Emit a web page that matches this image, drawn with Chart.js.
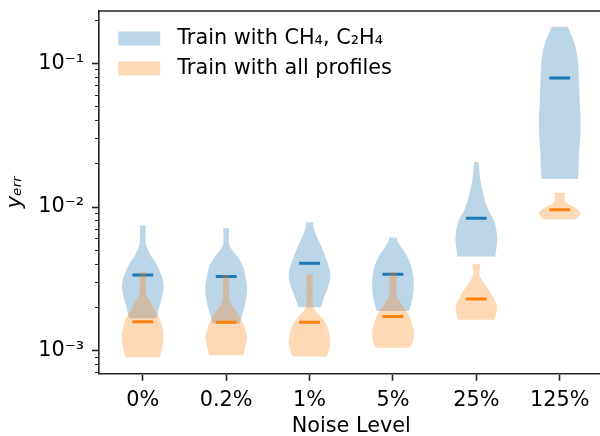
<!DOCTYPE html>
<html lang="en">
<head>
<meta charset="UTF-8">
<title>Prediction error vs noise level</title>
<script src="https://cdn.jsdelivr.net/npm/chart.js"></script>
<style>
  body { margin: 0; overflow: hidden; background: #fff; }
</style>
</head>
<body>
<canvas id="violinChart" width="610" height="436"></canvas>
<script>
const noiseLevels = ['0%', '0.2%', '1%', '5%', '25%', '125%'];
const seriesNames = ['Train with CH₄, C₂H₄', 'Train with all profiles'];

// median y_err per noise level
const ch4Medians = [0.00337, 0.00328, 0.00407, 0.00341, 0.00837, 0.0791];
const allMedians = [0.00159, 0.00158, 0.00158, 0.00173, 0.00229, 0.00956];

// violin outlines, top to bottom: [y_err, relative density]
const ch4Profiles = [
  [[0.00743, 0.14], [0.00560, 0.14], [0.00517, 0.22], [0.00464, 0.37], [0.00430, 0.52], [0.00396, 0.67],
   [0.00355, 0.82], [0.00321, 0.94], [0.00278, 1.0], [0.00233, 0.91], [0.00199, 0.78], [0.00168, 0.66]],
  [[0.00713, 0.14], [0.00560, 0.14], [0.00510, 0.25], [0.00464, 0.48], [0.00420, 0.68], [0.00375, 0.84],
   [0.00272, 1.0], [0.00208, 0.90], [0.00177, 0.76], [0.00155, 0.66]],
  [[0.00785, 0.18], [0.00720, 0.19], [0.00675, 0.25], [0.00591, 0.42], [0.00517, 0.60], [0.00417, 0.84],
   [0.00346, 1.0], [0.00287, 0.92], [0.00232, 0.68], [0.00201, 0.54]],
  [[0.00613, 0.18], [0.00575, 0.22], [0.00530, 0.38], [0.00440, 0.73], [0.00355, 0.94], [0.00287, 1.0],
   [0.00232, 0.94], [0.00189, 0.78]],
  [[0.02056, 0.11], [0.01590, 0.18], [0.01216, 0.34], [0.00982, 0.54], [0.00793, 0.86], [0.00607, 1.0],
   [0.00452, 0.91]],
  [[0.1794, 0.40], [0.1463, 0.64], [0.1182, 0.82], [0.0904, 0.90], [0.0530, 0.96], [0.0405, 1.0],
   [0.0310, 0.98], [0.0237, 0.93], [0.01565, 0.88]]
];
const allProfiles = [
  [[0.00352, 0.16], [0.00258, 0.14], [0.00240, 0.20], [0.00220, 0.36], [0.00187, 0.62], [0.00164, 0.84],
   [0.00136, 0.98], [0.00123, 1.0], [0.00104, 0.94], [0.00090, 0.82]],
  [[0.00337, 0.16], [0.00232, 0.15], [0.00205, 0.28], [0.00187, 0.51], [0.00159, 0.78], [0.00136, 0.94],
   [0.00122, 1.0], [0.00104, 0.90], [0.00093, 0.82]],
  [[0.00341, 0.16], [0.00208, 0.16], [0.00190, 0.28], [0.00177, 0.48], [0.00151, 0.82], [0.00122, 0.98],
   [0.00113, 1.0], [0.00098, 0.90], [0.00091, 0.82]],
  [[0.00352, 0.18], [0.00244, 0.18], [0.00225, 0.28], [0.00208, 0.44], [0.00177, 0.76], [0.00143, 0.97],
   [0.00136, 1.0], [0.00116, 0.96], [0.00105, 0.82]],
  [[0.00400, 0.20], [0.00370, 0.16], [0.00346, 0.12], [0.00303, 0.32], [0.00258, 0.64], [0.00220, 0.90],
   [0.00198, 1.0], [0.00164, 0.88]],
  [[0.01250, 0.27], [0.01120, 0.24], [0.01060, 0.35], [0.01008, 0.64], [0.00950, 0.90], [0.00907, 1.0],
   [0.00860, 0.90], [0.00818, 0.76]]
];

const yMajorTicks = [1e-3, 1e-2, 1e-1];
const yTickLabels = ['10⁻³', '10⁻²', '10⁻¹'];
const yMin = 6.92e-4, yMax = 0.2314;

const blueLine = '#1f77b4', orangeLine = '#ff7f0e';
const blueFill = 'rgba(31,119,180,0.3)', orangeFill = 'rgba(255,127,14,0.3)';
const halfWidth = 0.25;    // violins are 0.5 wide at their densest
const medianHalf = 0.125;
const fontSize = 20.8;

// all tick positions on the log axis (majors + 2..9 minors)
const yTickValues = [];
[1e-4].concat(yMajorTicks).forEach(dec => {
  for (let m = 1; m < 10; m++) {
    const v = m === 1 ? dec : m * dec;
    if (v >= yMin && v <= yMax) yTickValues.push(v);
  }
});

// right edge down, flat bottom, left edge up; bottom corners doubled so the
// spline keeps them sharp
function violinOutline(profile, pos) {
  const right = profile.map(([v, d]) => ({x: pos + d * halfWidth, y: v}));
  const left = profile.slice().reverse().map(([v, d]) => ({x: pos - d * halfWidth, y: v}));
  return right.concat([right[right.length - 1], left[0]], left);
}

function violinDatasets(profiles, medians, fillColor, lineColor, order) {
  const sets = [];
  profiles.forEach((p, i) => {
    sets.push({
      data: violinOutline(p, i + 1), showLine: true, fill: 'shape', tension: 0.35,
      backgroundColor: fillColor, borderColor: 'transparent', borderWidth: 0,
      pointRadius: 0, order: order + 1
    });
  });
  medians.forEach((m, i) => {
    sets.push({
      data: [{x: i + 1 - medianHalf, y: m}, {x: i + 1 + medianHalf, y: m}],
      showLine: true, fill: false, borderColor: lineColor, borderWidth: 3,
      pointRadius: 0, order: order
    });
  });
  return sets;
}

// top/right spines
const framePlugin = {
  id: 'frame',
  afterDatasetsDraw(chart) {
    const {ctx, chartArea: a} = chart;
    ctx.save();
    ctx.strokeStyle = '#222';
    ctx.lineWidth = 1.6;
    ctx.beginPath();
    ctx.moveTo(a.left, a.top);
    ctx.lineTo(a.right, a.top);
    ctx.lineTo(a.right, a.bottom);
    ctx.stroke();
    ctx.restore();
  }
};

// place the in-axes legend a bit in from the upper-left corner
const legendNudge = {
  id: 'legendNudge',
  afterLayout(chart) {
    chart.legend.left = chart.chartArea.left + 10;
    chart.legend.top = chart.chartArea.top + 8;
  }
};

Chart.defaults.font.family = "'DejaVu Sans', sans-serif";
Chart.defaults.color = '#000';

const datasets = violinDatasets(ch4Profiles, ch4Medians, blueFill, blueLine, 3)
  .concat(violinDatasets(allProfiles, allMedians, orangeFill, orangeLine, 1));

new Chart(document.getElementById('violinChart'), {
  type: 'scatter',
  data: { datasets: datasets },
  options: {
    responsive: false,
    animation: false,
    layout: { padding: { top: 11, right: 6.5, left: 0, bottom: 0 } },
    plugins: {
      tooltip: { enabled: false },
      legend: {
        position: 'chartArea',
        align: 'start',
        onClick: null,
        labels: {
          boxWidth: 42,
          boxHeight: 14,
          padding: 9.2,
          font: { size: fontSize },
          generateLabels: () => seriesNames.map((name, i) => ({
            text: '\u2008' + name,
            fillStyle: i ? orangeFill : blueFill,
            strokeStyle: 'transparent',
            lineWidth: 0,
            hidden: false,
            datasetIndex: i
          }))
        }
      }
    },
    scales: {
      x: {
        type: 'linear',
        min: 0.475,
        max: 6.525,
        afterBuildTicks: s => { s.ticks = noiseLevels.map((_, i) => ({value: i + 1})); },
        afterFit: s => { s.height = 62.3; },
        ticks: {
          autoSkip: false, maxRotation: 0, padding: 7,
          font: { size: fontSize },
          callback: v => noiseLevels[v - 1]
        },
        grid: { drawOnChartArea: false, tickLength: 7, tickWidth: 1.6, tickColor: '#222' },
        border: { color: '#222', width: 1.6 },
        title: {
          display: true, text: 'Noise Level',
          font: { size: fontSize, lineHeight: 0.9 }, padding: { top: 2, bottom: 0 }
        }
      },
      y: {
        type: 'logarithmic',
        min: yMin,
        max: yMax,
        afterBuildTicks: s => {
          s.ticks = yTickValues.map(v => ({value: v, major: yMajorTicks.includes(v)}));
        },
        afterFit: s => {
          s.width = 99;
          s.paddingTop = 0;
          s.paddingBottom = 0;
        },
        ticks: {
          autoSkip: false, padding: 8,
          font: { size: fontSize },
          callback: v => {
            const k = yMajorTicks.indexOf(v);
            return k >= 0 ? yTickLabels[k] : '';
          }
        },
        grid: {
          drawOnChartArea: false,
          tickLength: 7,
          tickColor: '#222',
          tickWidth: c => (c.tick && c.tick.major ? 1.6 : 1.2),
          tickBorderDash: c => (c.tick && c.tick.major ? [] : [0, 3, 4, 20])
        },
        border: { color: '#222', width: 1.6 },
        title: {
          display: true, text: 'yₑᵣᵣ',
          font: { size: fontSize, style: 'italic', lineHeight: 1 }, padding: { top: 5, bottom: 0 }
        }
      }
    }
  },
  plugins: [framePlugin, legendNudge]
});
</script>
</body>
</html>
